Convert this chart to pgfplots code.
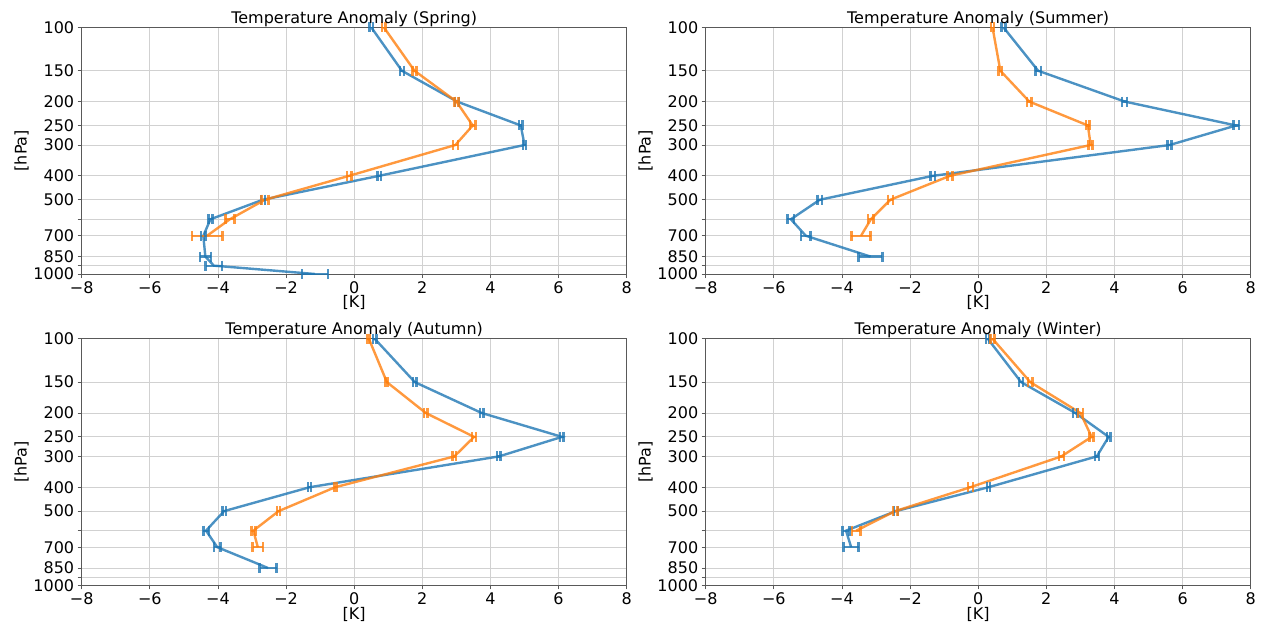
\documentclass[border=0pt]{standalone}
\usepackage{fontspec}
\setmainfont{DejaVu Sans}
\usepackage{pgfplots}
\usepackage{pgfplotstable}
\pgfplotsset{compat=1.18}
\definecolor{mblue}{HTML}{1F77B4}
\definecolor{morange}{HTML}{FF7F0E}

% columns: p (hPa), x (K), e (error)
\pgfplotstableread{
p x e
100 0.50 0.05
150 1.40 0.06
200 3.02 0.06
250 4.89 0.05
300 5.00 0.05
400 0.73 0.05
500 -2.68 0.06
600 -4.22 0.06
700 -4.43 0.07
850 -4.37 0.16
925 -4.12 0.24
1000 -1.15 0.38
}\springB
\pgfplotstableread{
p x e
100 0.87 0.05
150 1.77 0.06
200 3.00 0.06
250 3.48 0.08
300 2.97 0.07
400 -0.15 0.07
500 -2.62 0.10
600 -3.65 0.13
700 -4.32 0.45
}\springO
\pgfplotstableread{
p x e
100 0.74 0.06
150 1.76 0.08
200 4.30 0.07
250 7.57 0.08
300 5.62 0.06
400 -1.33 0.07
500 -4.65 0.07
600 -5.50 0.10
700 -5.06 0.14
850 -3.16 0.35
}\summerB
\pgfplotstableread{
p x e
100 0.42 0.04
150 0.65 0.05
200 1.50 0.06
250 3.22 0.05
300 3.30 0.06
400 -0.83 0.07
500 -2.58 0.07
600 -3.15 0.08
700 -3.44 0.28
}\summerO
\pgfplotstableread{
p x e
100 0.60 0.05
150 1.78 0.05
200 3.74 0.05
250 6.10 0.05
300 4.25 0.05
400 -1.31 0.05
500 -3.82 0.05
600 -4.35 0.08
700 -4.02 0.10
850 -2.53 0.25
}\autumnB
\pgfplotstableread{
p x e
100 0.43 0.04
150 0.96 0.04
200 2.10 0.05
250 3.52 0.06
300 2.94 0.05
400 -0.56 0.04
500 -2.22 0.05
600 -2.96 0.06
700 -2.83 0.15
}\autumnO
\pgfplotstableread{
p x e
100 0.28 0.05
150 1.26 0.06
200 2.85 0.07
250 3.83 0.05
300 3.48 0.06
400 0.30 0.05
500 -2.42 0.06
600 -3.88 0.10
700 -3.73 0.22
}\winterB
\pgfplotstableread{
p x e
100 0.42 0.06
150 1.53 0.06
200 3.00 0.07
250 3.33 0.06
300 2.44 0.07
400 -0.23 0.07
500 -2.44 0.07
600 -3.58 0.12
}\winterO

\newcommand{\fs}{\fontsize{16bp}{19bp}\selectfont}

% line with horizontal error bars, plus vertical caps at x-e and x+e
\newcommand{\series}[2]{%
  \addplot[#1, line width=2.4bp, opacity=0.8,
    error bars/.cd, x dir=both, x explicit, error mark=none,
    error bar style={line width=2.2bp}]
    table[x=x, y=p, x error=e] {#2};
  \addplot[#1, opacity=0.8, only marks, mark=|, mark size=5bp,
    mark options={line width=2.4bp}]
    table[x expr=\thisrow{x}-\thisrow{e}, y=p] {#2};
  \addplot[#1, opacity=0.8, only marks, mark=|, mark size=5bp,
    mark options={line width=2.4bp}]
    table[x expr=\thisrow{x}+\thisrow{e}, y=p] {#2};
}

\pgfplotsset{
  every axis/.append style={
    scale only axis, width=545bp, height=246.7bp,
    xmin=-8, xmax=8, ymin=100, ymax=1000,
    y dir=reverse,
    xtick={-8,-6,-4,-2,0,2,4,6,8},
    xticklabels={−8,−6,−4,−2,0,2,4,6,8},
    grid=major,
    major grid style={color=black!18, line width=0.8bp},
    axis line style={black!65, line width=0.8bp},
    tick style={black!65, line width=0.8bp},
    tick align=outside, major tick length=4bp,
    xtick pos=bottom, ytick pos=left,
    tick label style={font=\fs},
    label style={font=\fs},
    title style={font=\fs, yshift=-9bp},
    xlabel={[K]}, ylabel={[hPa]},
    xlabel style={yshift=5bp},
    ylabel style={yshift=-2bp},
  },
}

\begin{document}
\begin{tikzpicture}
\path[use as bounding box] (0,0) rectangle (1265bp,631bp);

\begin{axis}[ymode=log, anchor=south west, at={(81.7bp,357bp)},
    ytick={100,150,200,250,300,400,500,600,700,850,925,1000},
    yticklabels={100,150,200,250,300,400,500,,700,850,,1000},
    yminorticks=false,
    title={Temperature Anomaly (Spring)}]
\series{mblue}{\springB}
\series{morange}{\springO}
\end{axis}

\begin{axis}[ymode=log, anchor=south west, at={(705.7bp,357bp)},
    ytick={100,150,200,250,300,400,500,600,700,850,925,1000},
    yticklabels={100,150,200,250,300,400,500,,700,850,,1000},
    yminorticks=false,
    title={Temperature Anomaly (Summer)}]
\series{mblue}{\summerB}
\series{morange}{\summerO}
\end{axis}

\begin{axis}[ymode=log, anchor=south west, at={(81.7bp,45.6bp)},
    ytick={100,150,200,250,300,400,500,600,700,850,925,1000},
    yticklabels={100,150,200,250,300,400,500,,700,850,,1000},
    yminorticks=false,
    title={Temperature Anomaly (Autumn)}]
\series{mblue}{\autumnB}
\series{morange}{\autumnO}
\end{axis}

\begin{axis}[ymode=log, anchor=south west, at={(705.7bp,45.6bp)},
    ytick={100,150,200,250,300,400,500,600,700,850,925,1000},
    yticklabels={100,150,200,250,300,400,500,,700,850,,1000},
    yminorticks=false,
    title={Temperature Anomaly (Winter)}]
\series{mblue}{\winterB}
\series{morange}{\winterO}
\end{axis}
\end{tikzpicture}
\end{document}
